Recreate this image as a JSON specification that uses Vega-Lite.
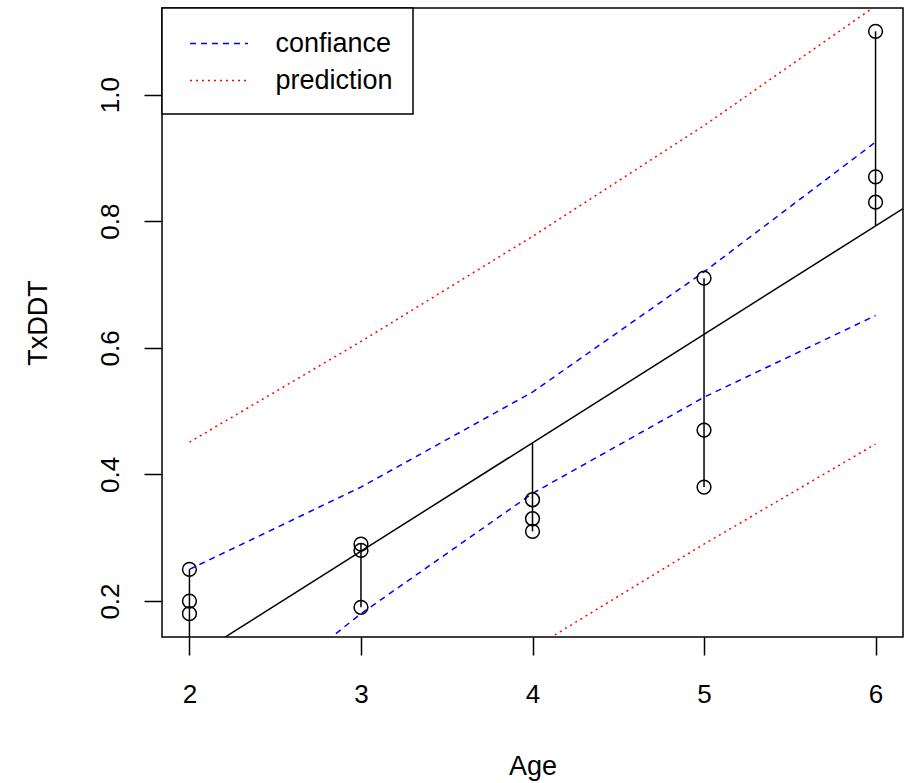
{
  "$schema": "https://vega.github.io/schema/vega-lite/v6.json",
  "width": 741,
  "height": 629,
  "autosize": "none",
  "padding": {"left": 162, "top": 8, "right": 5, "bottom": 146},
  "background": "white",
  "config": {
    "font": "Liberation Sans",
    "view": {"stroke": "black", "strokeWidth": 1.5},
    "axis": {
      "grid": false,
      "domain": false,
      "tickColor": "black",
      "tickSize": 18,
      "tickWidth": 1.5,
      "labelColor": "black",
      "labelFontSize": 26,
      "labelFont": "Liberation Sans",
      "titleColor": "black",
      "titleFontSize": 27,
      "titleFontWeight": "normal",
      "titleFont": "Liberation Sans"
    },
    "legend": {
      "orient": "top-left",
      "offset": 0,
      "padding": 20,
      "strokeColor": "black",
      "strokeWidth": 1.5,
      "fillColor": "white",
      "symbolType": "M-2,0H2",
      "symbolSize": 841,
      "symbolStrokeWidth": 1.5,
      "symbolOffset": 21.5,
      "labelFontSize": 27,
      "labelFont": "Liberation Sans",
      "labelColor": "black",
      "labelOffset": 41,
      "labelLimit": 300,
      "rowPadding": 8
    }
  },
  "datasets": {
    "points": [
      {"age": 2, "txddt": 0.25}, {"age": 2, "txddt": 0.20}, {"age": 2, "txddt": 0.18},
      {"age": 3, "txddt": 0.29}, {"age": 3, "txddt": 0.28}, {"age": 3, "txddt": 0.19},
      {"age": 4, "txddt": 0.36}, {"age": 4, "txddt": 0.33}, {"age": 4, "txddt": 0.31},
      {"age": 5, "txddt": 0.71}, {"age": 5, "txddt": 0.47}, {"age": 5, "txddt": 0.38},
      {"age": 6, "txddt": 1.10}, {"age": 6, "txddt": 0.87}, {"age": 6, "txddt": 0.83}
    ],
    "segments": [
      {"age": 2, "top": 0.25, "bottom": 0.107},
      {"age": 3, "top": 0.29, "bottom": 0.19},
      {"age": 4, "top": 0.45, "bottom": 0.31},
      {"age": 5, "top": 0.71, "bottom": 0.38},
      {"age": 6, "top": 1.10, "bottom": 0.793}
    ],
    "fit": [
      {"age": 1.84, "fit": 0.080},
      {"age": 6.16, "fit": 0.820}
    ],
    "bands": [
      {"age": 2, "value": 0.25, "series": "confiance", "bound": "upper"},
      {"age": 3, "value": 0.38, "series": "confiance", "bound": "upper"},
      {"age": 4, "value": 0.53, "series": "confiance", "bound": "upper"},
      {"age": 5, "value": 0.72, "series": "confiance", "bound": "upper"},
      {"age": 6, "value": 0.925, "series": "confiance", "bound": "upper"},
      {"age": 2, "value": -0.035, "series": "confiance", "bound": "lower"},
      {"age": 3, "value": 0.18, "series": "confiance", "bound": "lower"},
      {"age": 4, "value": 0.37, "series": "confiance", "bound": "lower"},
      {"age": 5, "value": 0.522, "series": "confiance", "bound": "lower"},
      {"age": 6, "value": 0.651, "series": "confiance", "bound": "lower"},
      {"age": 2, "value": 0.451, "series": "prediction", "bound": "upper"},
      {"age": 3, "value": 0.61, "series": "prediction", "bound": "upper"},
      {"age": 4, "value": 0.776, "series": "prediction", "bound": "upper"},
      {"age": 5, "value": 0.951, "series": "prediction", "bound": "upper"},
      {"age": 6, "value": 1.14, "series": "prediction", "bound": "upper"},
      {"age": 2, "value": -0.235, "series": "prediction", "bound": "lower"},
      {"age": 3, "value": -0.06, "series": "prediction", "bound": "lower"},
      {"age": 4, "value": 0.125, "series": "prediction", "bound": "lower"},
      {"age": 5, "value": 0.29, "series": "prediction", "bound": "lower"},
      {"age": 6, "value": 0.448, "series": "prediction", "bound": "lower"}
    ]
  },
  "layer": [
    {
      "data": {"name": "bands"},
      "mark": {"type": "line", "clip": true, "strokeWidth": 1.5},
      "encoding": {
        "x": {
          "field": "age", "type": "quantitative",
          "scale": {"domain": [1.84, 6.16], "nice": false, "zero": false},
          "axis": {"values": [2, 3, 4, 5, 6], "format": "d", "title": "Age", "labelPadding": 26, "titlePadding": 46, "labelFlush": false}
        },
        "y": {
          "field": "value", "type": "quantitative",
          "scale": {"domain": [0.1432, 1.1368], "nice": false, "zero": false},
          "axis": {"values": [0.2, 0.4, 0.6, 0.8, 1.0], "format": ".1f", "title": "TxDDT", "labelAngle": -90, "labelAlign": "center", "labelBaseline": "bottom", "labelPadding": 21, "titlePadding": 45, "labelFlush": false}
        },
        "color": {
          "field": "series", "type": "nominal",
          "scale": {"domain": ["confiance", "prediction"], "range": ["#0000ff", "#ff0000"]},
          "legend": {"title": null}
        },
        "strokeDash": {
          "field": "series", "type": "nominal",
          "scale": {"domain": ["confiance", "prediction"], "range": [[6, 5], [2, 4]]},
          "legend": {"title": null}
        },
        "detail": {"field": "bound", "type": "nominal"}
      }
    },
    {
      "data": {"name": "fit"},
      "mark": {"type": "line", "clip": true, "color": "black", "strokeWidth": 1.5},
      "encoding": {
        "x": {"field": "age", "type": "quantitative"},
        "y": {"field": "fit", "type": "quantitative"}
      }
    },
    {
      "data": {"name": "segments"},
      "mark": {"type": "rule", "clip": true, "color": "black", "strokeWidth": 1.5},
      "encoding": {
        "x": {"field": "age", "type": "quantitative"},
        "y": {"field": "top", "type": "quantitative"},
        "y2": {"field": "bottom"}
      }
    },
    {
      "data": {"name": "points"},
      "mark": {"type": "point", "shape": "circle", "filled": false, "color": "black", "size": 190, "strokeWidth": 1.5, "opacity": 1},
      "encoding": {
        "x": {"field": "age", "type": "quantitative"},
        "y": {"field": "txddt", "type": "quantitative"}
      }
    }
  ]
}
